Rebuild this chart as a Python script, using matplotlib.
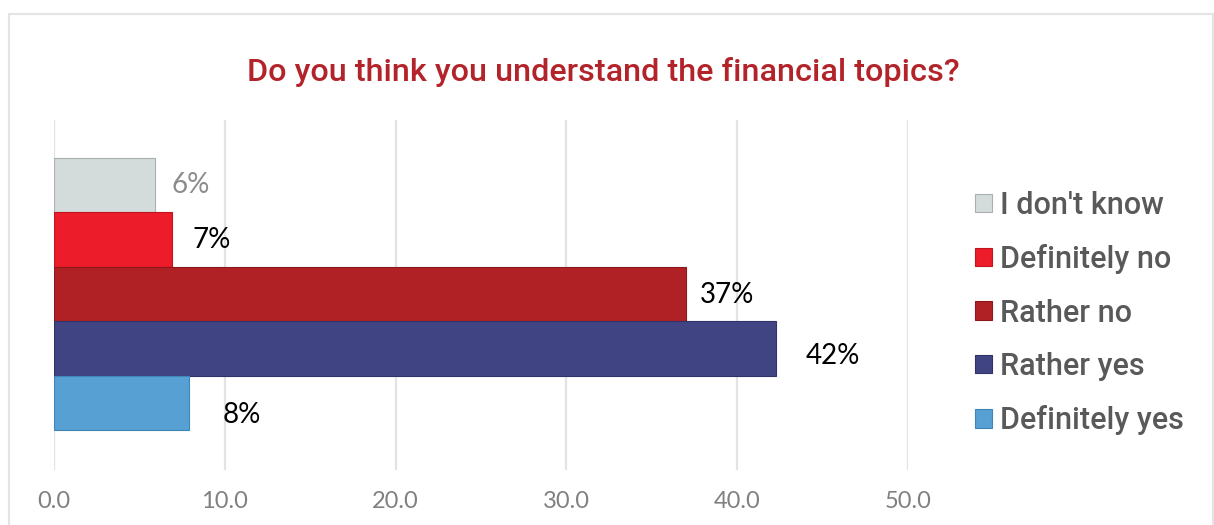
import numpy as np
import matplotlib.pyplot as plt
from matplotlib.patches import Rectangle

# data, top to bottom
categories = ["I don't know", "Definitely no", "Rather no", "Rather yes", "Definitely yes"]
values = [5.9, 6.9, 37.0, 42.3, 7.9]
value_labels = ["6%", "7%", "37%", "42%", "8%"]
x_ticks = [0, 10, 20, 30, 40, 50]
title = "Do you think you understand the financial topics?"

bar_colors = ['#d4dcdb', '#ed1c2a', '#b02125', '#404482', '#56a0d3']
edge_colors = ['#a9b0af', '#c0141f', '#8c181b', '#30336a', '#3f86b8']
label_colors = ['#8c8c8c', '#000000', '#000000', '#000000', '#000000']
# label offsets in pixels (dx, dy) as placed in the original
label_offsets = [(17, 0), (21, 0), (14, -1), (29, -8), (34, -12)]

narrow = ['Roboto', 'DejaVu Sans']
round_font = ['Lato', 'DejaVu Sans']

fig = plt.figure(figsize=(12.14, 5.25), dpi=100)
ax = fig.add_axes([54 / 1214, 1 - 470 / 525, 854 / 1214, 350 / 525])

# light frame round the chart
fig.patches.append(Rectangle((9 / 1214, -0.1), 1204 / 1214, 1.1 - 14 / 525,
                             transform=fig.transFigure, fill=False,
                             edgecolor='#e4e4e4', linewidth=1.6))

pos = np.arange(len(categories))
for i in range(len(categories)):
    ax.barh(pos[i], values[i], height=1.0, color=bar_colors[i],
            edgecolor=edge_colors[i], linewidth=0.8, label=categories[i], zorder=3)
    ax.annotate(value_labels[i], xy=(values[i], pos[i]),
                xytext=label_offsets[i], textcoords='offset pixels',
                ha='left', va='center', fontsize=20, color=label_colors[i],
                family=round_font)

ax.set_xlim(0, 50)
ax.set_ylim(4.5 + 0.735, -0.5 - 0.70)
ax.set_xticks(x_ticks)
ax.set_xticklabels([f"{t:.1f}" for t in x_ticks], family=round_font, fontsize=17,
                   color='#808080')
ax.set_yticks([])
ax.tick_params(axis='x', length=0, pad=15)
ax.grid(axis='x', color='#e3e3e3', linewidth=1.6, zorder=0)
for s in ax.spines.values():
    s.set_visible(False)

fig.text(0.497, 1 - 72 / 525, title, ha='center', va='center', fontsize=23.3,
         color='#b3232a', family=narrow, fontweight='medium')

leg = ax.legend(loc='center left', bbox_to_anchor=(975 / 1214, 1 - 313 / 525),
                bbox_transform=fig.transFigure, frameon=False,
                prop={'family': narrow, 'size': 22, 'weight': 'medium'}, labelcolor='#595959',
                handlelength=0.55, handleheight=0.55, handletextpad=0.28,
                labelspacing=0.80, borderaxespad=0, borderpad=0)

fig.savefig('out.png', dpi=100)
plt.close(fig)
